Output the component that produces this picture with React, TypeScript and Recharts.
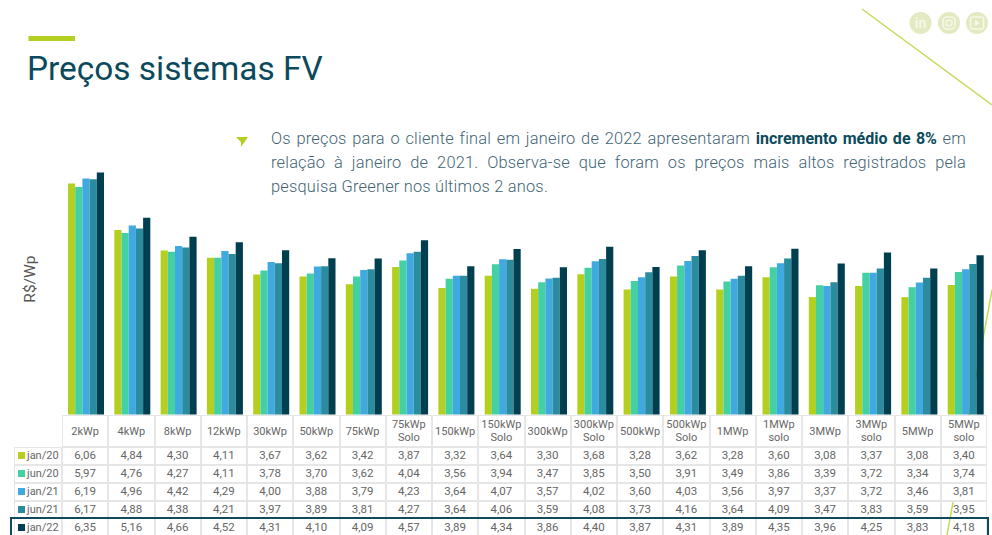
import { BarChart, Bar, XAxis, YAxis } from 'recharts'

const FONT = 'Roboto, sans-serif'

const categories = [
  '2kWp', '4kWp', '8kWp', '12kWp', '30kWp', '50kWp', '75kWp', '75kWp Solo', '150kWp', '150kWp Solo',
  '300kWp', '300kWp Solo', '500kWp', '500kWp Solo', '1MWp', '1MWp solo', '3MWp', '3MWp solo', '5MWp', '5MWp solo',
]

const jan20 = [6.06, 4.84, 4.30, 4.11, 3.67, 3.62, 3.42, 3.87, 3.32, 3.64, 3.30, 3.68, 3.28, 3.62, 3.28, 3.60, 3.08, 3.37, 3.08, 3.40]
const jun20 = [5.97, 4.76, 4.27, 4.11, 3.78, 3.70, 3.62, 4.04, 3.56, 3.94, 3.47, 3.85, 3.50, 3.91, 3.49, 3.86, 3.39, 3.72, 3.34, 3.74]
const jan21 = [6.19, 4.96, 4.42, 4.29, 4.00, 3.88, 3.79, 4.23, 3.64, 4.07, 3.57, 4.02, 3.60, 4.03, 3.56, 3.97, 3.37, 3.72, 3.46, 3.81]
const jun21 = [6.17, 4.88, 4.38, 4.21, 3.97, 3.89, 3.81, 4.27, 3.64, 4.06, 3.59, 4.08, 3.73, 4.16, 3.64, 4.09, 3.47, 3.83, 3.59, 3.95]
const jan22 = [6.35, 5.16, 4.66, 4.52, 4.31, 4.10, 4.09, 4.57, 3.89, 4.34, 3.86, 4.40, 3.87, 4.31, 3.89, 4.35, 3.96, 4.25, 3.83, 4.18]

const seriesNames = ['jan/20', 'jun/20', 'jan/21', 'jun/21', 'jan/22']
const seriesValues = [jan20, jun20, jan21, jun21, jan22]
const seriesColors = ['#b5cf21', '#43d0a2', '#3fa9e0', '#2a8c9e', '#003f4f']

const chartData = categories.map((name, i) => {
  const row: Record<string, number | string> = { name }
  seriesNames.forEach((s, j) => { row[s] = seriesValues[j][i] })
  return row
})

const fmt = (v: number) => v.toFixed(2).replace('.', ',')

const cell = (extra: React.CSSProperties = {}): React.CSSProperties => ({
  boxSizing: 'border-box',
  border: '1px solid #e6e6e6',
  display: 'flex',
  alignItems: 'center',
  justifyContent: 'center',
  textAlign: 'center',
  lineHeight: '13px',
  ...extra,
})

function DataTable() {
  return (
    <div
      style={{
        position: 'absolute',
        left: 14,
        top: 415,
        display: 'grid',
        gridTemplateColumns: `48px repeat(20, 46.25px)`,
        gridTemplateRows: '32px 17.5px 18px 18px 17.5px 18px',
        fontFamily: FONT,
        fontSize: 11,
        color: '#666',
      }}
    >
      <div />
      {categories.map((c) => (
        <div key={c} style={cell({ background: '#fff' })}>{c}</div>
      ))}
      {seriesNames.map((s, j) => (
        <div key={s} style={{ display: 'contents' }}>
          <div style={cell({ justifyContent: 'flex-start', paddingLeft: 3, background: j < 3 ? '#fff' : 'transparent' })}>
            <span style={{ width: 7, height: 7, background: seriesColors[j], marginRight: 2, flex: 'none' }} />
            {s}
          </div>
          {seriesValues[j].map((v, i) => (
            <div key={i} style={cell({ background: j < 3 ? '#fff' : 'transparent', fontSize: 11.5 })}>{fmt(v)}</div>
          ))}
        </div>
      ))}
    </div>
  )
}

function Decor() {
  const icon = '#e3e9c0'
  return (
    <svg width={992} height={535} style={{ position: 'absolute', left: 0, top: 0 }}>
      <line x1={862} y1={9} x2={992} y2={105} stroke="#c5da5a" strokeWidth={1.5} />
      <line x1={992} y1={290} x2={947} y2={535} stroke="#c5da5a" strokeWidth={1.5} />
      <rect x={28.5} y={36} width={46.5} height={5} fill="#b5cf21" />
      <polygon points="236,137 248,137 241,147 241,142" fill="#b5cf21" />
      <circle cx={920.5} cy={23} r={11} fill={icon} />
      <circle cx={949} cy={23} r={11} fill={icon} />
      <circle cx={977} cy={23} r={11} fill={icon} />
      <text x={920.5} y={28} textAnchor="middle" fontFamily={FONT} fontSize={14} fontWeight={700} fill="#f6f8e8">in</text>
      <rect x={943} y={17} width={12} height={12} rx={4} fill="none" stroke="#f6f8e8" strokeWidth={1.6} />
      <circle cx={949} cy={23} r={3} fill="none" stroke="#f6f8e8" strokeWidth={1.6} />
      <rect x={970.5} y={17} width={13} height={12} rx={2} fill="none" stroke="#f6f8e8" strokeWidth={1.6} />
      <polygon points="975,20 975,26 980,23" fill="#f6f8e8" />
    </svg>
  )
}

const lineStyle: React.CSSProperties = {
  textAlign: 'justify',
  textAlignLast: 'justify',
  height: 24,
  lineHeight: '24px',
  whiteSpace: 'nowrap',
}

export default function App() {
  return (
    <div style={{ position: 'absolute', left: 0, top: 0, width: 992, height: 535, overflow: 'hidden', background: '#fff' }}>
      <Decor />
      <DataTable />
      <div
        style={{
          position: 'absolute',
          left: 27,
          top: 47,
          fontFamily: FONT,
          fontSize: 33.4,
          lineHeight: '44px',
          color: '#0b4a5c',
          whiteSpace: 'nowrap',
        }}
      >
        Preços sistemas FV
      </div>
      <div
        style={{
          position: 'absolute',
          left: 271,
          top: 127,
          width: 695,
          fontFamily: FONT,
          fontSize: 16.4,
          fontWeight: 300,
          letterSpacing: 0.2,
          color: '#3f6575',
        }}
      >
        <div style={lineStyle}>
          Os preços para o cliente final em janeiro de 2022 apresentaram{' '}
          <b style={{ color: '#0b4a5c', fontSize: 16, fontWeight: 700, letterSpacing: 0 }}>incremento médio de 8%</b> em
        </div>
        <div style={lineStyle}>
          relação à janeiro de 2021. Observa-se que foram os preços mais altos registrados pela
        </div>
        <div style={{ ...lineStyle, textAlign: 'left', textAlignLast: 'left' }}>
          pesquisa Greener nos últimos 2 anos.
        </div>
      </div>
      <div style={{ position: 'absolute', left: 0, top: 0 }}>
        <BarChart
          width={989}
          height={414.6}
          data={chartData}
          barSize={7.2}
          barGap={0}
          margin={{ top: 147.6, right: 0, bottom: 0, left: 0 }}
        >
          <XAxis dataKey="name" hide />
          <YAxis
            width={63}
            domain={[0, 7]}
            tick={false}
            axisLine={false}
            tickLine={false}
            label={{
              value: 'R$/Wp',
              angle: -90,
              position: 'insideLeft',
              offset: 29,
              dy: -2,
              style: { fontFamily: FONT, fontSize: 15.5, fill: '#555', textAnchor: 'middle' },
            }}
          />
          {seriesNames.map((s, j) => (
            <Bar key={s} dataKey={s} fill={seriesColors[j]} isAnimationActive={false} />
          ))}
        </BarChart>
      </div>
      <div
        style={{
          position: 'absolute',
          left: 10,
          top: 516.5,
          width: 979,
          height: 30,
          boxSizing: 'border-box',
          border: '2px solid #0f4a5c',
        }}
      />
    </div>
  )
}
